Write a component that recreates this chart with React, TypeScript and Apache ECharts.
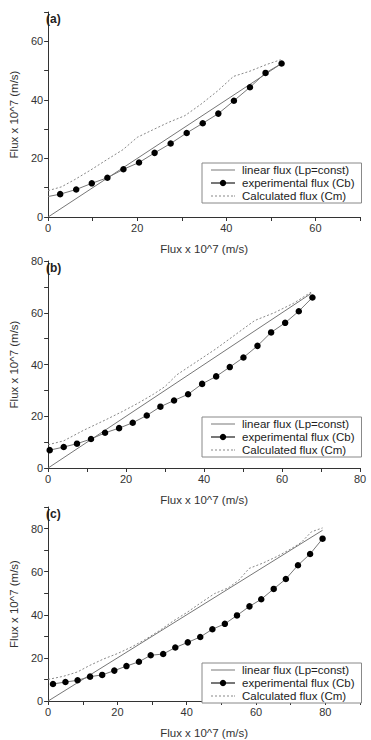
import React, { useEffect, useRef } from "react";
import * as echarts from "echarts";

// Experimental flux (Cb) points, [x, y] in units of 10^-7 m/s
const expA: number[][] = [
  [0, 7.0], [2.7, 7.8], [6.3, 9.4], [9.8, 11.5], [13.3, 13.4], [16.9, 16.3], [20.4, 18.6],
  [23.9, 21.9], [27.5, 25.1], [31.1, 28.7], [34.7, 32.0], [38.2, 35.3], [41.7, 39.7],
  [45.3, 44.3], [48.8, 49.2], [52.4, 52.4],
];
const expB: number[][] = [
  [0.4, 6.9], [4.0, 8.1], [7.4, 9.4], [11.0, 11.2], [14.6, 13.6], [18.2, 15.4], [21.7, 17.5],
  [25.3, 20.3], [28.8, 23.7], [32.3, 26.1], [35.9, 28.5], [39.5, 32.5], [43.1, 35.4],
  [46.6, 39.0], [50.1, 42.7], [53.7, 47.2], [57.2, 52.4], [60.8, 56.1], [64.3, 60.6],
  [67.8, 65.9],
];
const expC: number[][] = [
  [1.4, 7.9], [5.0, 8.8], [8.5, 9.6], [12.1, 11.3], [15.6, 12.1], [19.1, 14.1], [22.6, 16.2],
  [26.2, 18.2], [29.6, 21.2], [33.2, 21.8], [36.7, 24.8], [40.3, 27.2], [43.9, 29.7],
  [47.4, 33.3], [51.0, 35.8], [54.5, 39.7], [58.1, 43.9], [61.5, 47.2], [65.1, 52.0],
  [68.6, 56.6], [72.1, 63.0], [75.6, 68.2], [79.2, 75.3],
];

// Calculated flux (Cm)
const calcA: number[][] = [
  [0, 9.0], [3, 10.3], [6, 12.8], [9.5, 16.0], [13, 19.4], [16.8, 23.0], [20, 27.2],
  [23.4, 29.7], [27, 32.3], [30.7, 34.6], [34.3, 38.5], [38, 43.0], [41.6, 48.0],
  [45.3, 49.8], [48.9, 52.0], [52.2, 53.7],
];
const calcB: number[][] = [
  [0, 9.0], [4, 10.5], [9, 14.5], [15, 18.8], [19, 21.8], [23, 25.0], [27, 28.5], [30, 31.5],
  [33, 36.0], [38, 41.0], [43, 46.0], [48, 51.5], [53, 57.0], [58, 60.0], [63, 63.7],
  [67.8, 68.3],
];
const calcC: number[][] = [
  [0, 10.0], [4.5, 11.5], [8.5, 13.5], [12, 16.5], [16, 19.5], [20, 22.0], [24, 25.0],
  [28, 28.5], [32, 32.5], [36, 37.0], [40, 41.0], [44, 45.5], [48, 49.8], [52, 52.5],
  [55, 56.0], [58, 61.5], [62, 64.0], [66, 67.0], [70, 70.5], [73, 73.5], [76, 78.5],
  [79.2, 80.3],
];

// Linear flux (Lp = const): y = x up to the last measured flux
const linA: number[][] = [[0, 0], [52.4, 52.4]];
const linB: number[][] = [[0, 0], [67.5, 67.5]];
const linC: number[][] = [[0, 0], [79.2, 79.2]];

const panelLabels = ["(a)", "(b)", "(c)"];
const xMax = [70, 80, 90];
const yMax = [70, 80, 90];
const axisTitle = "Flux x 10^7 (m/s)";
const seriesNames = [
  "linear flux (Lp=const)",
  "experimental flux (Cb)",
  "Calculated flux (Cm)",
];

const FONT = "Liberation Sans, Arial, sans-serif";
const grids = [
  { top: 12, height: 205, legendTop: 163 },
  { top: 261, height: 207, legendTop: 417 },
  { top: 507, height: 205, legendTop: 663 },
];

// Legend glyphs: a plain 1px stroke and a dashed 1px stroke
const solidIcon = "path://M0,0h24v1h-24z";
const dashedIcon =
  "path://M0,0h2v1h-2z M4,0h2v1h-2z M8,0h2v1h-2z M12,0h2v1h-2z M16,0h2v1h-2z M20,0h2v1h-2z M23,0h1v1h-1z";

export default function App() {
  const ref = useRef<HTMLDivElement>(null);

  useEffect(() => {
    if (!ref.current) return;
    const chart = echarts.init(ref.current, null, { renderer: "svg" });

    const exp = [expA, expB, expC];
    const calc = [calcA, calcB, calcC];
    const lin = [linA, linB, linC];

    const labelFmt = (v: number) => (v % 20 === 0 ? String(v) : "");

    const xAxes = grids.map((_, i) => ({
      type: "value",
      gridIndex: i,
      min: 0,
      max: xMax[i],
      interval: 10,
      axisLine: { show: true, lineStyle: { color: "#333", width: 1 } },
      axisTick: { show: true, length: 4, lineStyle: { color: "#333" } },
      splitLine: { show: false },
      axisLabel: {
        formatter: labelFmt,
        fontSize: 11,
        color: "#333",
        margin: 5,
        fontFamily: FONT,
      },
      name: axisTitle,
      nameLocation: "middle",
      nameGap: 26,
      nameTextStyle: { fontSize: 11.5, color: "#333", fontFamily: FONT },
    }));

    const yAxes = grids.map((_, i) => ({
      type: "value",
      gridIndex: i,
      min: 0,
      max: yMax[i],
      interval: 10,
      axisLine: { show: true, lineStyle: { color: "#333", width: 1 } },
      axisTick: { show: true, length: 4, lineStyle: { color: "#333" } },
      splitLine: { show: false },
      axisLabel: {
        formatter: labelFmt,
        fontSize: 11,
        color: "#333",
        margin: 5,
        fontFamily: FONT,
      },
      name: axisTitle,
      nameLocation: "middle",
      nameGap: 22,
      nameTextStyle: { fontSize: 11.5, color: "#333", fontFamily: FONT },
    }));

    const series: any[] = [];
    grids.forEach((_, i) => {
      series.push({
        name: seriesNames[0],
        type: "line",
        xAxisIndex: i,
        yAxisIndex: i,
        data: lin[i],
        showSymbol: false,
        symbol: "none",
        lineStyle: { color: "#777", width: 1 },
        itemStyle: { color: "#777" },
      });
      series.push({
        name: seriesNames[1],
        type: "line",
        xAxisIndex: i,
        yAxisIndex: i,
        data: exp[i].map((p, k) =>
          i === 0 && k === 0 ? { value: p, symbol: "none" } : { value: p }
        ),
        symbol: "circle",
        symbolSize: 6.5,
        lineStyle: { color: "#777", width: 1 },
        itemStyle: { color: "#000" },
      });
      series.push({
        name: seriesNames[2],
        type: "line",
        xAxisIndex: i,
        yAxisIndex: i,
        data: calc[i],
        showSymbol: false,
        symbol: "none",
        lineStyle: { color: "#888", width: 1, type: [2, 2] },
        itemStyle: { color: "#888" },
      });
    });

    const legends = grids.map((g) => ({
      data: [
        { name: seriesNames[0], icon: solidIcon, itemStyle: { color: "#777" } },
        { name: seriesNames[1] },
        { name: seriesNames[2], icon: dashedIcon, itemStyle: { color: "#888" } },
      ],
      orient: "vertical",
      left: 202,
      top: g.legendTop,
      itemWidth: 24,
      itemHeight: 8,
      itemGap: 1,
      padding: [1, 7, 1, 8],
      borderColor: "#888",
      borderWidth: 1,
      backgroundColor: "#fff",
      selectedMode: false,
      textStyle: {
        fontSize: 11.5,
        lineHeight: 12,
        color: "#222",
        fontFamily: FONT,
        padding: [0, 0, 0, 2],
      },
    }));

    const titles = grids.map((g, i) => ({
      text: panelLabels[i],
      left: 46,
      top: g.top + 1,
      padding: 0,
      textStyle: { fontSize: 12, fontWeight: "bold", color: "#222", fontFamily: FONT },
    }));

    chart.setOption({
      animation: false,
      backgroundColor: "#fff",
      title: titles,
      legend: legends,
      grid: grids.map((g) => ({ left: 40, width: 320, top: g.top, height: g.height })),
      xAxis: xAxes,
      yAxis: yAxes,
      series,
    });

    return () => chart.dispose();
  }, []);

  return (
    <div
      ref={ref}
      style={{ position: "fixed", left: 0, top: 0, width: 371, height: 740, background: "#fff" }}
    />
  );
}
